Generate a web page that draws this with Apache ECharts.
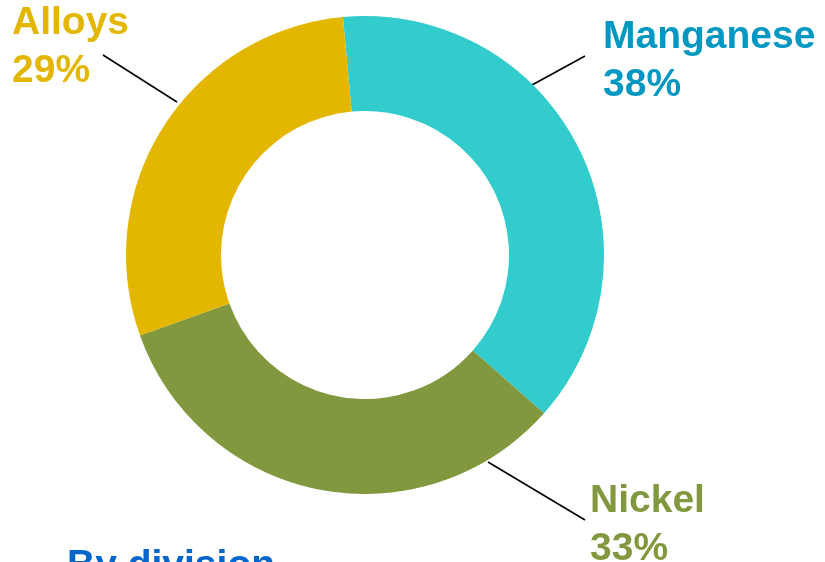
<!DOCTYPE html>
<html><head><meta charset="utf-8">
<script src="https://cdn.jsdelivr.net/npm/echarts@6/dist/echarts.min.js"></script>
<style>html,body{margin:0;padding:0;background:#fff}#c{width:825px;height:562px}</style>
</head><body><div id="c"></div>
<script>
const categories = ['Manganese', 'Nickel', 'Alloys'];
const values = [38, 33, 29];
const sliceColors = ['#33CCCC', '#82983E', '#E3B700'];
const labelColors = ['#0097C2', '#82983E', '#E3B700'];
const titleText = 'By division';

// label placement (layout only)
const labelPos = [
  {x: 603, y: 13, line: [[532, 85], [585, 56]]},
  {x: 590, y: 477, line: [[488, 462], [585, 520]]},
  {x: 12, y: -1, line: [[177, 102], [103, 55]]}
];

const chart = echarts.init(document.getElementById('c'));
chart.setOption({
  animation: false,
  title: {
    text: titleText, left: 62, top: 537,
    textStyle: {color: '#0066CC', fontSize: 39, fontWeight: 'bold', fontFamily: 'Liberation Sans, Arial, sans-serif', lineHeight: 48}
  },
  series: [{
    type: 'pie',
    center: [365, 255],
    radius: [144, 239],
    startAngle: 95.3,
    clockwise: true,
    avoidLabelOverlap: false,
    data: categories.map((c, i) => ({
      name: c, value: values[i],
      itemStyle: {color: sliceColors[i]},
      label: {color: labelColors[i]}
    })),
    label: {
      show: true, position: 'outside',
      formatter: '{b}\n{d}%',
      fontSize: 39, fontWeight: 'bold', lineHeight: 48,
      fontFamily: 'Liberation Sans, Arial, sans-serif',
      align: 'left'
    },
    labelLine: {show: true, smooth: false, lineStyle: {color: '#000', width: 1.6}},
    labelLayout: function (p) {
      const l = labelPos[p.dataIndex];
      return {x: l.x, y: l.y, align: 'left', verticalAlign: 'top', labelLinePoints: l.line};
    }
  }]
});
</script></body></html>
